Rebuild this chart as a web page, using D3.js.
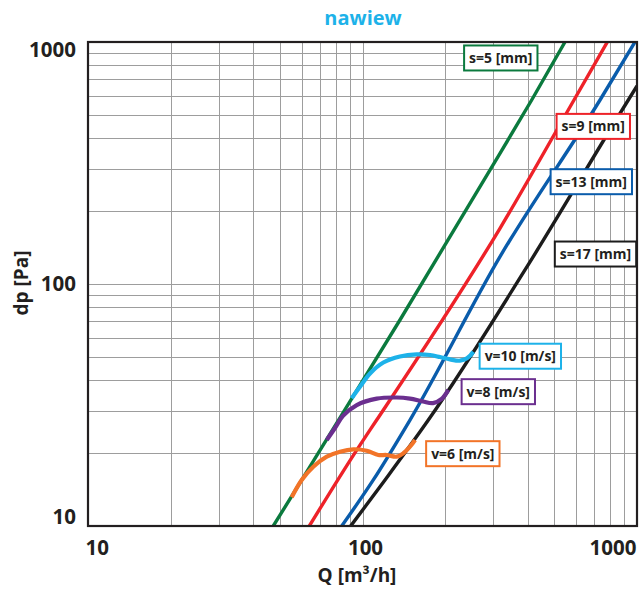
<!DOCTYPE html>
<html><head><meta charset="utf-8">
<script src="https://cdn.jsdelivr.net/npm/d3@7"></script>
<style>body{margin:0;background:#fff;} svg{display:block;font-family:"Open Sans",sans-serif;}</style>
</head><body><svg id="c" width="639" height="589"></svg>
<script>
// ---- data ----
const xTickLabels=[10,100,1000];
const yTickLabels=[10,100,1000];
const sLabels=["s=5 [mm]","s=9 [mm]","s=13 [mm]","s=17 [mm]"];
const s5Q=[47.3,60.1,81.8,136.9,316.9,413.4,546.6];
const s5Dp=[10,15.5,27.4,71,346.7,575.9,1000];
const s9Q=[64,97.9,112.6,316.9,589.5,779.6];
const s9Dp=[10,21.6,27.4,169.9,575.9,1000];
const s13Q=[84,109.5,148.9,316.9,733.3,983];
const s13Dp=[10,15.5,27.4,129.7,575.9,1000];
const s17Q=[90.6,120.8,173.7,390.8,929.6,1000];
const s17Dp=[10,15.5,27.4,114.3,575.9,658];
const vLabels=["v=6 [m/s]","v=8 [m/s]","v=10 [m/s]"];
const v6Q=[55.2,60.05,66.2,74.1,82.8,92.6,103.6,114.2,122.5,133.2,140.8,148.9,155.4];
const v6Dp=[13.14,15.5,17.58,19.34,20.28,20.75,20.47,19.65,19.65,19.34,19.97,21.27,22.67];
const v8Q=[74.1,79.4,84.9,95.3,112.7,133.2,148.9,166.1,180.6,194.3,205.4];
const v8Dp=[22.67,25.4,28.5,31.6,33.6,33.96,33.6,32.7,32.2,33.5,36.5];
const v10Q=[91.3,97.9,106.5,119.1,136.9,157.6,176.2,191.6,208.4,226.6,240.3,253.3];
const v10Dp=[33.7,37.6,42.7,47.4,50.2,51.2,50.9,49.9,48.8,48.2,49.3,52.5];

// ---- layout / style ----
const sLabelAtQ=[319,693,681.6,706], sLabelAtDp=[859,448,264.7,133];
const vLabelAtQ=[232,312.4,375.8], vLabelAtDp=[19.9,35.9,50.3];
const sColors=["#0b7a3e","#ee2229","#0a5cab","#1c1c1c"];
const vColors=["#f27428","#6b2f8f","#1db2e9"];
const L=88,R=637,T=42,B=526;

const svg=d3.select("#c");
const x=d3.scaleLog().domain([10,1000]).range([L,R]);
const y=d3.scaleLog().domain([10,1000]).range([B,T]);

svg.append("defs").append("clipPath").attr("id","clip")
  .append("rect").attr("x",L).attr("y",T).attr("width",R-L).attr("height",B-T);

// grid
const g=svg.append("g");
x.ticks().filter(d=>d>10&&d<1000).forEach(d=>{
  const px=Math.round(x(d))+0.5;
  g.append("line").attr("x1",px).attr("x2",px).attr("y1",T).attr("y2",B).attr("stroke","#9d9d9d").attr("stroke-width",1);
});
y.ticks().filter(d=>d>10&&d<1000).forEach(d=>{
  const py=Math.round(y(d))+0.5;
  g.append("line").attr("x1",L).attr("x2",R).attr("y1",py).attr("y2",py).attr("stroke","#9d9d9d").attr("stroke-width",1);
});

const line=d3.line().x(d=>x(d[0])).y(d=>y(d[1])).curve(d3.curveMonotoneX);
const lineV=d3.line().x(d=>x(d[0])).y(d=>y(d[1])).curve(d3.curveCatmullRom.alpha(0.5));
const sSeries=[[s5Q,s5Dp],[s9Q,s9Dp],[s13Q,s13Dp],[s17Q,s17Dp]];
const vSeries=[[v6Q,v6Dp],[v8Q,v8Dp],[v10Q,v10Dp]];
const cg=svg.append("g").attr("clip-path","url(#clip)");
sSeries.forEach((s,i)=>{
  cg.append("path").datum(s[0].map((q,j)=>[q,s[1][j]])).attr("d",line)
    .attr("fill","none").attr("stroke",sColors[i]).attr("stroke-width",3.4).attr("stroke-linejoin","round");
});
vSeries.forEach((s,i)=>{
  cg.append("path").datum(s[0].map((q,j)=>[q,s[1][j]])).attr("d",lineV)
    .attr("fill","none").attr("stroke",vColors[i]).attr("stroke-width",4.2).attr("stroke-linecap","butt").attr("stroke-linejoin","round");
});

// frame
svg.append("rect").attr("x",L).attr("y",T).attr("width",R-L).attr("height",B-T)
  .attr("fill","none").attr("stroke","#231f20").attr("stroke-width",2.2);

// labels
function box(text,cx,cy,color){
  const gg=svg.append("g");
  const t=gg.append("text").attr("x",cx).attr("y",cy).attr("text-anchor","middle").attr("dy","0.36em")
    .attr("font-size",14).attr("font-weight",700).attr("fill","#231f20").text(text);
  const bb=t.node().getBBox();
  gg.insert("rect","text").attr("x",bb.x-5).attr("y",cy-12.5).attr("width",bb.width+10).attr("height",25)
    .attr("fill","#fff").attr("stroke",color).attr("stroke-width",2);
}
sLabels.forEach((s,i)=>box(s,x(sLabelAtQ[i]),y(sLabelAtDp[i]),sColors[i]));
vLabels.forEach((s,i)=>box(s,x(vLabelAtQ[i]),y(vLabelAtDp[i]),vColors[i]));

// axes
const ax=svg.append("g").attr("transform",`translate(0,${B})`)
  .call(d3.axisBottom(x).tickValues(xTickLabels).tickSize(0).tickPadding(14).tickFormat(d3.format("d")));
ax.select(".domain").remove();
ax.selectAll("text").attr("font-size",20.5).attr("font-weight",700).attr("fill","#231f20").attr("font-family","Open Sans")
  .attr("text-anchor",(d,i)=>i===0?"start":i===2?"end":"middle")
  .attr("dx",(d,i)=>i===0?-3:i===2?-1:2.5);
const ay=svg.append("g").attr("transform",`translate(${L},0)`)
  .call(d3.axisLeft(y).tickValues(yTickLabels).tickSize(0).tickPadding(12).tickFormat(d3.format("d")));
ay.select(".domain").remove();
ay.selectAll("text").attr("font-size",20.5).attr("font-weight",700).attr("fill","#231f20").attr("font-family","Open Sans")
  .attr("dy",(d,i)=>i===0?"-0.1em":i===2?"0.72em":"0.33em");

svg.append("text").attr("x",357).attr("y",582).attr("text-anchor","middle").attr("font-size",19)
  .attr("font-weight",700).attr("fill","#231f20").text("Q [m³/h]");
svg.append("text").attr("transform","translate(28,283) rotate(-90)").attr("text-anchor","middle").attr("font-size",19)
  .attr("font-weight",700).attr("fill","#231f20").text("dp [Pa]");
svg.append("text").attr("x",363).attr("y",25).attr("text-anchor","middle").attr("font-size",20)
  .attr("font-weight",700).attr("fill","#1db2e9").text("nawiew");
</script></body></html>
